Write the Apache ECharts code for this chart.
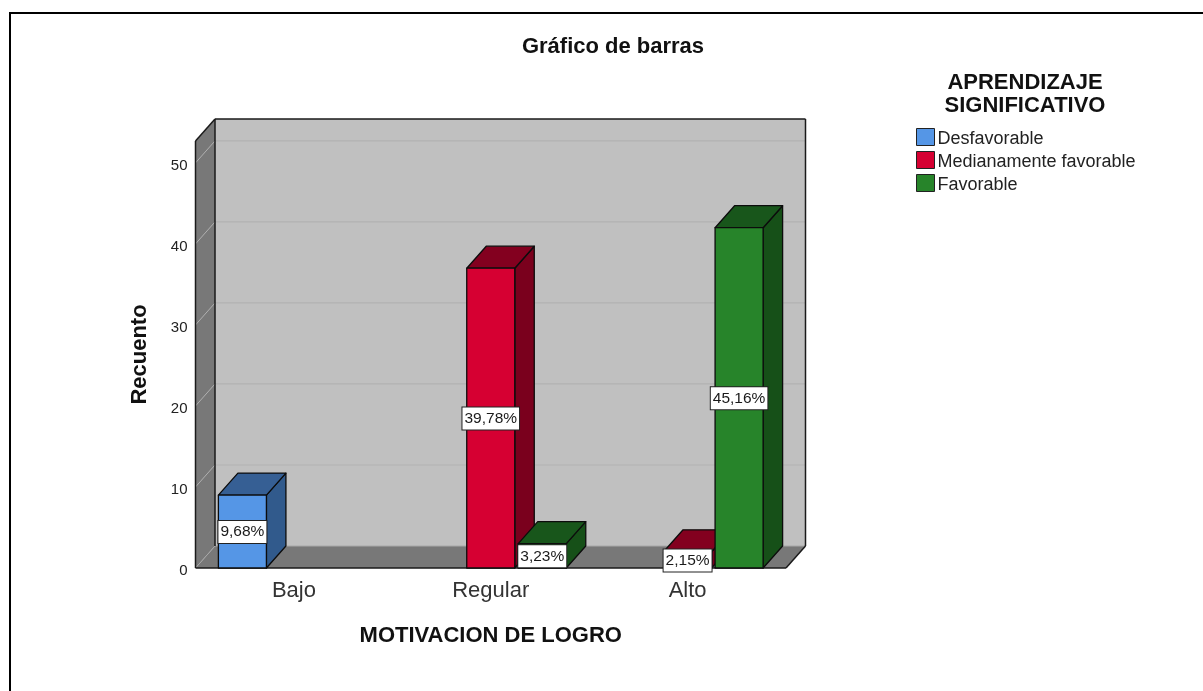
<!DOCTYPE html>
<html><head><meta charset="utf-8">
<style>html,body{margin:0;padding:0;background:#fff}#c{width:1203px;height:691px}</style>
<script src="https://cdn.jsdelivr.net/npm/echarts@6/dist/echarts.min.js"></script>
</head><body><div id="c"></div>
<script>
const categories = ['Bajo','Regular','Alto'];
const desfavorable = [9,0,0];
const medianamente = [0,37,2];
const favorable = [0,3,42];
const pctDesfavorable = ['9,68%','',''];
const pctMedianamente = ['','39,78%','2,15%'];
const pctFavorable = ['','3,23%','45,16%'];
const yTicks = [0,10,20,30,40,50];
const FONT = '"Liberation Sans", Arial, sans-serif';
const DX = 19.5, DY = 22;
const BAR_PITCH = 0.2617, BAR_W = 0.244;

function frameItem(params, api){
  const c = params.coordSys;
  const L=c.x, R=c.x+c.width, T=c.y, B=c.y+c.height;
  const ch=[];
  const poly=(pts,fill)=>ch.push({type:'polygon',shape:{points:pts},style:{fill:fill,stroke:null}});
  const line=(a,b,col,w)=>ch.push({type:'line',shape:{x1:a[0],y1:a[1],x2:b[0],y2:b[1]},style:{stroke:col,lineWidth:w||1}});
  poly([[L+DX,T-DY],[R+DX,T-DY],[R+DX,B-DY],[L+DX,B-DY]],'#c0c0c0');
  poly([[L,T],[L+DX,T-DY],[L+DX,B-DY],[L,B]],'#787878');
  poly([[L,B],[L+DX,B-DY],[R+DX,B-DY],[R,B]],'#787878');
  yTicks.forEach(v=>{
    const y=api.coord([0,v])[1];
    line([L,y],[L+DX,y-DY],v===0?'#a8a8a8':'#b0b0b0',1);
    line([L+DX,y-DY],[R+DX,y-DY],v===0?'#a8a8a8':'#b2b2b2',1.2);
  });
  const k='#1a1a1a';
  line([L,T],[L,B],k,1.5);
  line([L,T],[L+DX,T-DY],k,1.5);
  line([L+DX,T-DY],[R+DX,T-DY],k,1.5);
  line([L+DX,T-DY],[L+DX,B-DY],k,1.5);
  line([R+DX,T-DY],[R+DX,B-DY],k,1.5);
  line([L,B],[R,B],k,1.5);
  line([R,B],[R+DX,B-DY],k,1.5);
  return {type:'group',children:ch};
}

function barSeries(name, values, pct, idx, front, top, side){
  return {
    type:'custom', name:name, coordinateSystem:'cartesian2d', z:3,
    itemStyle:{color:front},
    data: categories.map((c,i)=>[i,values[i],pct[i]]),
    encode:{x:0,y:1},
    renderItem:(params,api)=>{
      const v=api.value(1);
      if(!v) return null;
      const catW=api.size([1,0])[0];
      const base=api.coord([api.value(0),0]);
      const head=api.coord([api.value(0),v]);
      const w=catW*BAR_W;
      const cx=base[0]+(idx-1)*catW*BAR_PITCH;
      const x0=cx-w/2,x1=cx+w/2,y0=base[1],y1=head[1];
      const st=(f)=>({fill:f,stroke:'#0c0c0c',lineWidth:1.3,lineJoin:'round'});
      return {type:'group',children:[
        {type:'polygon',shape:{points:[[x1,y0],[x1+DX,y0-DY],[x1+DX,y1-DY],[x1,y1]]},style:st(side)},
        {type:'polygon',shape:{points:[[x0,y1],[x0+DX,y1-DY],[x1+DX,y1-DY],[x1,y1]]},style:st(top)},
        {type:'rect',shape:{x:x0,y:y1,width:w,height:y0-y1},style:st(front)},
        {type:'text',z2:100,x:cx,y:(y0+y1)/2+0.5,style:{
          text:api.value(2),fill:'#1a1a1a',font:'15.5px '+FONT,align:'center',verticalAlign:'middle',
          backgroundColor:'#fff',borderColor:'#222',borderWidth:1,padding:[3,2,3,2]}}
      ]};
    }
  };
}

const chart = echarts.init(document.getElementById('c'),null,{renderer:'canvas'});
chart.setOption({
  animation:false,
  backgroundColor:'#fff',
  title:[
    {text:'Gráfico de barras',left:608,top:31,textAlign:'center',textStyle:{fontFamily:FONT,fontSize:22,fontWeight:'bold',color:'#111'}},
    {text:'APRENDIZAJE\nSIGNIFICATIVO',left:1020,top:66,textAlign:'center',textStyle:{fontFamily:FONT,fontSize:22,fontWeight:'bold',color:'#111',lineHeight:23}}
  ],
  grid:{left:195.5,top:141,width:590.5,height:427,containLabel:false},
  legend:{
    orient:'vertical',left:911,top:123,itemWidth:18,itemHeight:17,itemGap:3,icon:'rect',
    data:['Desfavorable','Medianamente favorable','Favorable'],
    itemStyle:{borderColor:'#222',borderWidth:1},
    formatter:'{a|{name}}',
    textStyle:{rich:{a:{fontFamily:FONT,fontSize:18,color:'#222',padding:[4,0,0,-2]}}},
    selectedMode:false
  },
  xAxis:{type:'category',data:categories,
    axisLine:{show:false},axisTick:{show:false},
    axisLabel:{fontFamily:FONT,fontSize:22,color:'#333',margin:12},
    name:'MOTIVACION DE LOGRO',nameLocation:'middle',nameGap:57,
    nameTextStyle:{fontFamily:FONT,fontSize:22,fontWeight:'bold',color:'#111'}},
  yAxis:{type:'value',min:0,max:52.7,interval:10,
    axisLine:{show:false},axisTick:{show:false},splitLine:{show:false},
    axisLabel:{margin:8,showMaxLabel:false,formatter:'{a|{value}}',
      rich:{a:{fontFamily:FONT,fontSize:15,color:'#222',padding:[6,0,0,0]}}},
    name:'Recuento',nameLocation:'middle',nameGap:45,nameRotate:90,
    nameTextStyle:{fontFamily:FONT,fontSize:22,fontWeight:'bold',color:'#111'}},
  graphic:[
    {type:'line',shape:{x1:10,y1:13,x2:1203,y2:13},style:{stroke:'#000',lineWidth:2}},
    {type:'line',shape:{x1:10,y1:12,x2:10,y2:691},style:{stroke:'#000',lineWidth:2}}
  ],
  series:[
    {type:'custom',name:'frame',coordinateSystem:'cartesian2d',z:1,silent:true,renderItem:frameItem,data:[[0,0]],encode:{x:0,y:1}},
    barSeries('Desfavorable',desfavorable,pctDesfavorable,0,'#5596e6','#365f94','#315a8c'),
    barSeries('Medianamente favorable',medianamente,pctMedianamente,1,'#d60032','#83001f','#7a001d'),
    barSeries('Favorable',favorable,pctFavorable,2,'#27842a','#18561b','#165018')
  ]
});
</script></body></html>
